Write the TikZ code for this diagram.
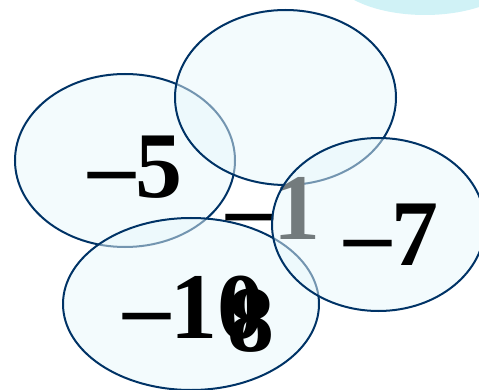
\documentclass[tikz,border=0pt]{standalone}
\usepackage{fontspec}
\setmainfont{Liberation Serif}
\definecolor{ringline}{RGB}{0,51,102}
\definecolor{ringfill}{RGB}{231,247,251}
\definecolor{cornerfill}{RGB}{208,242,246}
\tikzset{
  ring/.style={draw=ringline, line width=2pt, fill=ringfill, fill opacity=0.5},
  num/.style={font=\fontsize{94}{94}\selectfont\bfseries, inner sep=0pt, anchor=base west, text=black}
}
\begin{document}
\begin{tikzpicture}[x=1pt,y=-1pt]
\useasboundingbox (0,0) rectangle (479,390);
\fill[cornerfill] (425,-30) ellipse [x radius=95, y radius=45];
\path[ring] (125,160.5) ellipse [x radius=110, y radius=86.5];
\path[ring] (285.5,97.5) ellipse [x radius=110.5, y radius=87.5];
\path[ring] (191,304) ellipse [x radius=128, y radius=86];
\node[num] (m1) at (226,240) {–1};
\path[ring] (378.5,224.5) ellipse [x radius=106.5, y radius=86.5];
\node[num] (m5) at (88,198) {–5};
\node[num] (m7) at (344,265) {–7};
\node[num] (m10) at (123,338) {–10};
\node[num] (e8) at (227,351) {8};
\end{tikzpicture}
\end{document}
